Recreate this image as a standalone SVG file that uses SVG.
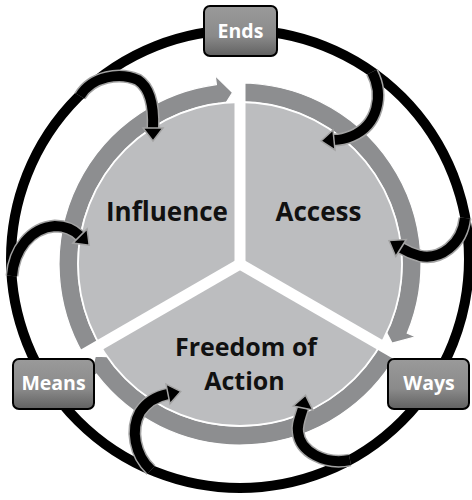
<svg xmlns="http://www.w3.org/2000/svg" width="472" height="500" viewBox="0 0 472 500">
<defs>
<linearGradient id="boxg" x1="0" y1="0" x2="0" y2="1">
<stop offset="0" stop-color="#9a9a9a"/>
<stop offset="0.6" stop-color="#8a8a8a"/>
<stop offset="1" stop-color="#616161"/>
</linearGradient>
<style>
.ring{fill:none;stroke:#000;stroke-width:10}
.band{fill:#8d8e90;stroke:#ffffff;stroke-width:1.2}
.pie{fill:#bcbdbf;stroke:#ffffff;stroke-width:1.8}
.div{stroke:#ffffff;stroke-width:11;stroke-linecap:butt}
.shaftbg{fill:none;stroke:#a3a3a3;stroke-width:13}
.shaft{fill:none;stroke:#000;stroke-width:10}
.head{fill:#000;stroke:#a3a3a3;stroke-width:1.5;stroke-linejoin:miter}
.lbl{font-family:"Open Sans","Liberation Sans",sans-serif;font-weight:700;font-size:26px;fill:#111;text-anchor:middle}
.lbl2{font-family:"Open Sans","Liberation Sans",sans-serif;font-weight:700;font-size:25px;fill:#111;text-anchor:middle}
.box{fill:url(#boxg);stroke:#000;stroke-width:2}
.blbl{font-family:"Open Sans","Liberation Sans",sans-serif;font-weight:700;font-size:19.5px;fill:#fff;text-anchor:middle}
</style>
</defs>
<circle class="ring" cx="240" cy="259" r="229"/>
<g id="cycle">
<path id="band-influence" class="band" d="M83.25,354.5 A181,181 0 0 1 216.38,84.56 L215.2,75.63 L232.52,92.67 L220.03,112.32 L218.86,103.39 A162,162 0 0 0 99.71,345 Z"/>
<path id="band-access" class="band" d="M240,83 A181,181 0 0 1 407.23,333.27 L415.54,336.71 L392.12,343.18 L381.36,322.55 L389.67,326 A162,162 0 0 0 240,102 Z"/>
<path id="band-freedom" class="band" d="M396.75,354.5 A181,181 0 0 1 96.39,374.19 L89.25,379.67 L95.36,356.15 L118.61,357.15 L111.47,362.63 A162,162 0 0 0 380.29,345 Z"/>
<circle class="pie" cx="240" cy="264" r="162"/>
<line class="div" x1="240" y1="264" x2="240" y2="72"/>
<line class="div" x1="240" y1="264" x2="406.3" y2="360"/>
<line class="div" x1="240" y1="264" x2="73.7" y2="360"/>
</g>
<g id="connectors">
<path class="shaftbg" d="M80,96 C92,76 120,72 138,80 C150,88 154,105 153,128"/>
<path class="shaft" d="M80,96 C92,76 120,72 138,80 C150,88 154,105 153,128"/>
<polygon class="head" points="143,128 163,128 153,141"/>
<path class="shaftbg" d="M372,72 C384,95 378,125 352,136 C345,139 340,140 334,140"/>
<path class="shaft" d="M372,72 C384,95 378,125 352,136 C345,139 340,140 334,140"/>
<polygon class="head" points="335,150 333,130 321,141"/>
<path class="shaftbg" d="M465,218 C462,245 440,260 420,256 C412,254 406,251 401,248"/>
<path class="shaft" d="M465,218 C462,245 440,260 420,256 C412,254 406,251 401,248"/>
<polygon class="head" points="395.7,256.5 406.3,239.5 389,240.6"/>
<path class="shaftbg" d="M350,460 C325,465 300,452 298,432 C297,425 299,421 303,408"/>
<path class="shaft" d="M350,460 C325,465 300,452 298,432 C297,425 299,421 303,408"/>
<polygon class="head" points="312.8,410 293.2,406 305.6,395.3"/>
<path class="shaftbg" d="M151,470 C135,455 130,430 140,412 C148,400 158,396 168,394"/>
<path class="shaft" d="M151,470 C135,455 130,430 140,412 C148,400 158,396 168,394"/>
<polygon class="head" points="170,403.8 166,384.2 180.7,391.4"/>
<path class="shaftbg" d="M12,276 C14,250 30,228 55,226 C66,226 74,230 80,236"/>
<path class="shaft" d="M12,276 C14,250 30,228 55,226 C66,226 74,230 80,236"/>
<polygon class="head" points="72.9,243.1 87.1,228.9 89.2,245.2"/>
</g>
<g id="influence"><text class="lbl" x="167" y="221">Influence</text></g>
<g id="access"><text class="lbl" x="318.5" y="221">Access</text></g>
<g id="freedom"><text class="lbl2" x="246" y="356">Freedom of</text><text class="lbl2" x="244.5" y="390">Action</text></g>
<g id="ends"><rect class="box" x="204" y="6" width="73" height="50" rx="6"/><text class="blbl" x="240.5" y="38">Ends</text></g>
<g id="means"><rect class="box" x="13" y="359" width="81" height="50" rx="6"/><text class="blbl" x="53.5" y="390">Means</text></g>
<g id="ways"><rect class="box" x="388" y="359" width="81" height="50" rx="6"/><text class="blbl" x="429" y="390">Ways</text></g>
</svg>
